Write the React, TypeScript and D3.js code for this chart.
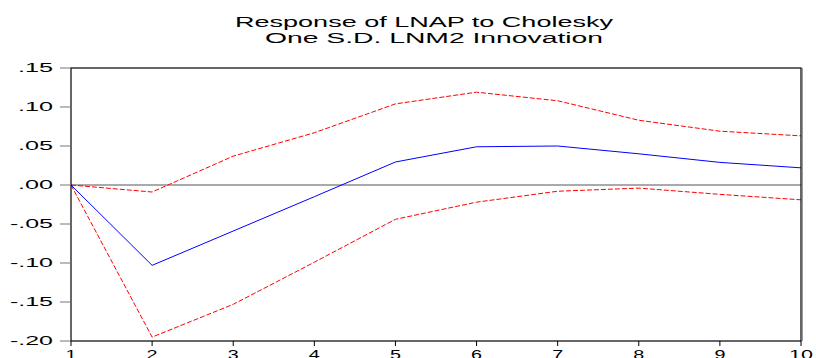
import React from 'react';
import * as d3 from 'd3';

// Impulse response data (periods 1..10)
const periods = [1, 2, 3, 4, 5, 6, 7, 8, 9, 10];
const response = [0, -0.103, -0.059, -0.015, 0.0295, 0.049, 0.050, 0.040, 0.029, 0.022];
const upperBand = [0, -0.009, 0.037, 0.067, 0.104, 0.119, 0.108, 0.083, 0.069, 0.063];
const lowerBand = [0, -0.195, -0.153, -0.099, -0.044, -0.022, -0.008, -0.004, -0.012, -0.019];
const yTicks = [0.15, 0.10, 0.05, 0.0, -0.05, -0.10, -0.15, -0.20];
const yTickLabels = ['.15', '.10', '.05', '.00', '-.05', '-.10', '-.15', '-.20'];
const titleLines = ['Response of LNAP to Cholesky', 'One S.D. LNM2 Innovation'];

const WIDTH = 816;
const HEIGHT = 358;
const margin = { top: 68, right: 15, bottom: 17, left: 71 };

const App: React.FC = () => {
  const innerWidth = WIDTH - margin.left - margin.right;
  const innerHeight = HEIGHT - margin.top - margin.bottom;

  const xScale = d3.scaleLinear().domain([1, 10]).range([0, innerWidth]);
  const yScale = d3.scaleLinear().domain([-0.2, 0.15]).range([innerHeight, 0]);

  const line = d3.line<number>()
    .x((_, i) => xScale(periods[i]))
    .y(d => yScale(d));

  const fontFamily = '"Liberation Sans", Arial, sans-serif';

  return (
    <svg
      width={WIDTH}
      height={HEIGHT}
      style={{ position: 'absolute', left: 0, top: 0, background: '#fff' }}
    >
      {/* Title */}
      <g fontFamily={fontFamily} fontSize={14} fill="#000">
        <text x={235} y={27} textLength={378} lengthAdjust="spacingAndGlyphs">
          {titleLines[0]}
        </text>
        <text x={265} y={43} textLength={338} lengthAdjust="spacingAndGlyphs">
          {titleLines[1]}
        </text>
      </g>

      <g transform={`translate(${margin.left}, ${margin.top})`}>
        {/* Zero line */}
        <line x1={0} x2={innerWidth} y1={yScale(0)} y2={yScale(0)} stroke="#555" strokeWidth={1} />

        {/* Confidence bands */}
        <path d={line(upperBand) || ''} fill="none" stroke="#ff0000" strokeWidth={1} strokeDasharray="5,2" />
        <path d={line(lowerBand) || ''} fill="none" stroke="#ff0000" strokeWidth={1} strokeDasharray="5,2" />

        {/* Response */}
        <path d={line(response) || ''} fill="none" stroke="#0000ff" strokeWidth={1} />

        {/* Frame */}
        <rect x={0} y={0} width={innerWidth} height={innerHeight} fill="none" stroke="#000" strokeWidth={1.2} />
        <line x1={innerWidth + 1.5} x2={innerWidth + 1.5} y1={0} y2={innerHeight} stroke="#999" strokeWidth={1} />

        {/* Y axis */}
        <g fontFamily={fontFamily} fontSize={12} fill="#000">
          {yTicks.map((v, i) => {
            const label = yTickLabels[i];
            const len = label.length === 3 ? 35 : 43;
            return (
              <g key={`y-${i}`} transform={`translate(0, ${yScale(v)})`}>
                <line x1={-11} x2={0} stroke="#777" strokeWidth={1} />
                <text
                  x={-18 - len}
                  dy="0.35em"
                  textLength={len}
                  lengthAdjust="spacingAndGlyphs"
                >
                  {label}
                </text>
              </g>
            );
          })}
        </g>

        {/* X axis */}
        <g fontFamily={fontFamily} fontSize={12} fill="#000" transform={`translate(0, ${innerHeight})`}>
          {periods.map(p => {
            const label = String(p);
            const len = label.length === 1 ? 11 : 24;
            return (
              <g key={`x-${p}`} transform={`translate(${xScale(p)}, 0)`}>
                <line y1={0} y2={5} stroke="#000" strokeWidth={1} />
                <text
                  x={-len / 2}
                  y={18}
                  textLength={len}
                  lengthAdjust="spacingAndGlyphs"
                >
                  {label}
                </text>
              </g>
            );
          })}
        </g>
      </g>
    </svg>
  );
};

export default App;
